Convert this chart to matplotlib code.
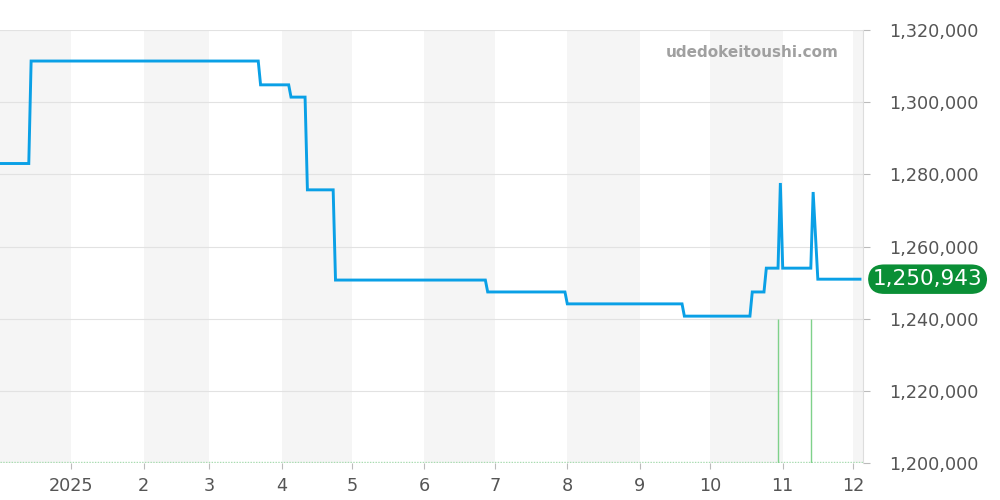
import matplotlib
matplotlib.use("Agg")
import matplotlib.pyplot as plt
import matplotlib.dates as mdates
import numpy as np
from datetime import datetime, timedelta

# ---- data ----
dates = ["2024-12-02", "2024-12-14", "2024-12-15", "2025-03-22", "2025-03-23",
         "2025-04-04", "2025-04-05", "2025-04-11", "2025-04-12", "2025-04-23",
         "2025-04-24", "2025-06-27", "2025-06-28", "2025-07-31", "2025-08-01",
         "2025-09-19", "2025-09-20", "2025-10-18", "2025-10-19", "2025-10-24",
         "2025-10-25", "2025-10-30", "2025-10-31", "2025-11-01", "2025-11-13",
         "2025-11-14", "2025-11-16", "2025-12-04"]
prices = [1283000, 1283000, 1311400, 1311400, 1304800,
          1304800, 1301400, 1301400, 1275700, 1275700,
          1250700, 1250700, 1247400, 1247400, 1244100,
          1244100, 1240700, 1240700, 1247400, 1247400,
          1254000, 1254000, 1277600, 1254000, 1254000,
          1275100, 1250943, 1250943]
volume_dates = ["2025-10-30", "2025-11-13"]
volume_tops = [1240000, 1240000]
last_price = 1250943
y_ticks = [1200000, 1220000, 1240000, 1260000, 1280000, 1300000, 1320000]
month_ticks = ["2025-01-01", "2025-02-01", "2025-03-01", "2025-04-01", "2025-05-01",
               "2025-06-01", "2025-07-01", "2025-08-01", "2025-09-01", "2025-10-01",
               "2025-11-01", "2025-12-01"]
month_labels = ["2025", "2", "3", "4", "5", "6", "7", "8", "9", "10", "11", "12"]
shade_starts = ["2024-11-01", "2025-02-01", "2025-04-01", "2025-06-01", "2025-08-01",
                "2025-10-01", "2025-12-01"]
shade_ends = ["2025-01-01", "2025-03-01", "2025-05-01", "2025-07-01", "2025-09-01",
              "2025-11-01", "2026-01-01"]

def d(s):
    return datetime.strptime(s, "%Y-%m-%d")

fig = plt.figure(figsize=(10, 5), dpi=100)
ax = fig.add_axes([0, 37/500, 863/1000, 433/500])

xmin = d("2024-12-01") + timedelta(hours=17)
xmax = d("2025-12-05") + timedelta(hours=7)

for s, e in zip(shade_starts, shade_ends):
    ax.axvspan(d(s), d(e), color="#f5f5f5", zorder=0, lw=0)

for yt in y_ticks:
    ax.axhline(yt, color="#e2e2e2", lw=0.8, zorder=1)

# volume-like bars
ax.axhline(1200300, color="#a8dcb0", lw=1.0, ls=(0, (1, 1)), zorder=2)
for vd, vt in zip(volume_dates, volume_tops):
    ax.vlines(d(vd), 1200000, vt, color="#7fd18a", lw=1.0, zorder=2)

ax.plot([d(x) for x in dates], prices, color="#0aa0e6", lw=2.1, zorder=3,
        solid_joinstyle="miter")

ax.set_xlim(xmin, xmax)
ax.set_ylim(1200000, 1320000)

ax.yaxis.tick_right()
ax.set_yticks(y_ticks)
ax.set_yticklabels([f"{v:,}" for v in y_ticks])
ax.set_xticks([d(m) for m in month_ticks])
ax.set_xticklabels(month_labels)
ax.tick_params(axis="y", length=5, color="#bbbbbb", labelcolor="#555555",
               labelsize=12.7, pad=14)
ax.tick_params(axis="x", length=4, color="#bbbbbb", labelcolor="#555555",
               labelsize=12.7, pad=6)

for sp in ["top", "left", "bottom"]:
    ax.spines[sp].set_visible(False)
ax.spines["right"].set_color("#dddddd")
ax.spines["right"].set_linewidth(0.8)

ax.text(0.972, 0.948, "udedokeitoushi.com", transform=ax.transAxes,
        ha="right", va="center", fontsize=11, fontweight="bold", color="#a0a0a0")

ax.annotate(f"{last_price:,}", xy=(1.0, last_price), xycoords=("axes fraction", "data"),
            xytext=(46.5, 0), textcoords="offset points", ha="center", va="center",
            fontsize=15.5, color="white",
            bbox=dict(boxstyle="round,pad=0.22,rounding_size=0.75", fc="#0a8f36",
                      ec="none"))

fig.savefig("out.png", dpi=100)
